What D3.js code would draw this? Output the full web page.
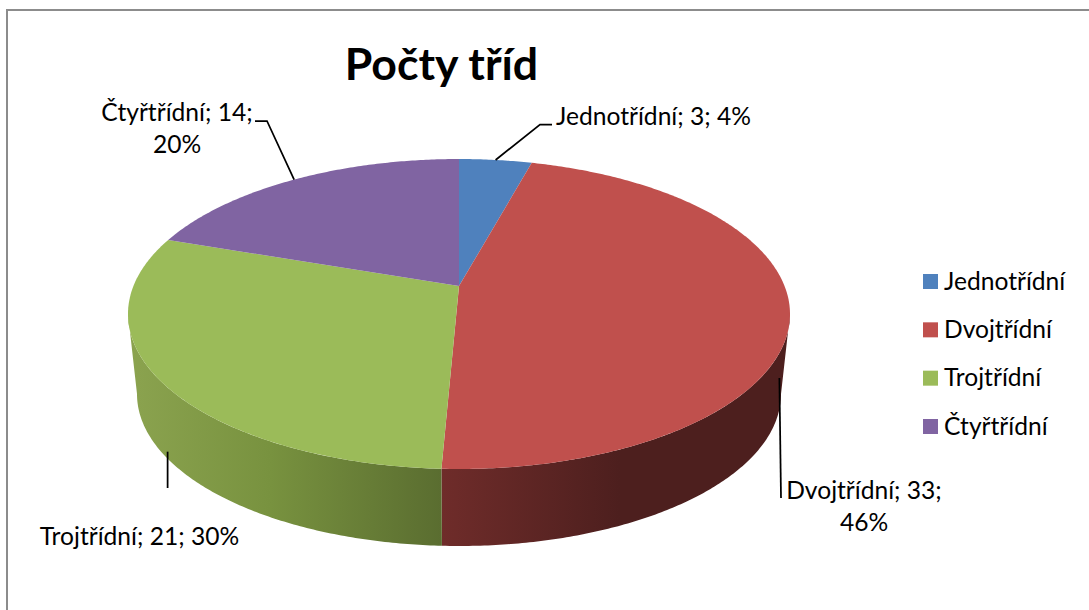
<!DOCTYPE html>
<html>
<head>
<meta charset="utf-8">
<script src="https://cdn.jsdelivr.net/npm/d3@7/dist/d3.min.js"></script>
<style>
html,body{margin:0;padding:0;background:#fff;}
svg{display:block;}
text{font-family:Lato,"Open Sans",sans-serif;fill:#000;}
</style>
</head>
<body>
<div id="chart"></div>
<script>
var categories = ['Jednotřídní','Dvojtřídní','Trojtřídní','Čtyřtřídní']
var values = [3,33,21,14]
var percents = ['4%','46%','30%','20%']
var colors = ['#4f81bd','#c0504d','#9bbb59','#8064a2']
var title = 'Počty tříd'

var width = 1089, height = 610

var svg = d3.select('#chart').append('svg')
	.attr('width',width)
	.attr('height',height)

// chart frame, right and bottom edges run off the picture
svg.append('path')
	.attr('d','M7,'+height+'V10H'+width)
	.attr('fill','none')
	.attr('stroke','#8c8c8c')
	.attr('stroke-width',2)

// the pie is a circle seen in perspective
var top_face = {cx:459,cy:314,rx:331,ry:155}
var bottom_face = {cx:459,cy:394,rx:322,ry:152}
var skew = -0.18

function project(face,angle) {
	var u = Math.sin(angle), v = -Math.cos(angle)
	var w = 1 + skew*v
	return [
		face.cx + face.rx*Math.sqrt(1-skew*skew)*u/w,
		face.cy + face.ry*(v+skew)/w
	]
}
function rim(face,a0,a1) {
	var n = Math.max(2,Math.ceil(Math.abs(a1-a0)/0.01))
	return d3.range(n+1).map(function(i){
		return project(face,a0+(a1-a0)*i/n)
	})
}

var pie = d3.pie().sort(null).value(function(d){return d})
var slices = pie(values)
var apex = [top_face.cx, top_face.cy + top_face.ry*skew]

var line = d3.line()

var defs = svg.append('defs')
var side_green = defs.append('linearGradient')
	.attr('id','side-green')
	.attr('gradientUnits','userSpaceOnUse')
	.attr('x1',130).attr('x2',442).attr('y1',0).attr('y2',0)
side_green.append('stop').attr('offset',0).attr('stop-color','#8ba34f')
side_green.append('stop').attr('offset',0.45).attr('stop-color','#78923f')
side_green.append('stop').attr('offset',1).attr('stop-color','#5a6d30')
var side_red = defs.append('linearGradient')
	.attr('id','side-red')
	.attr('gradientUnits','userSpaceOnUse')
	.attr('x1',441).attr('x2',620).attr('y1',0).attr('y2',0)
side_red.append('stop').attr('offset',0).attr('stop-color','#6f2c2a')
side_red.append('stop').attr('offset',1).attr('stop-color','#4d1f1e')

// wall of the pie: only the two front slices show, between the widest points
var split = slices[1].endAngle
var widest = Math.acos(skew)
var wall_right = widest, wall_left = 2*Math.PI - widest

svg.append('path')
	.attr('d',line(rim(top_face,wall_right,split).concat(rim(bottom_face,split,wall_right)))+'Z')
	.attr('fill','url(#side-red)')
svg.append('path')
	.attr('d',line(rim(top_face,split,wall_left).concat(rim(bottom_face,wall_left,split)))+'Z')
	.attr('fill','url(#side-green)')

// top face
svg.selectAll('path.slice')
	.data(slices)
	.enter()
	.append('path')
	.attr('class','slice')
	.attr('d',function(d){
		return line([apex].concat(rim(top_face,d.startAngle,d.endAngle)))+'Z'
	})
	.attr('fill',function(d,i){return colors[i]})

svg.append('text')
	.attr('x',441.5)
	.attr('y',80)
	.attr('text-anchor','middle')
	.style('font-size','44.6px')
	.style('font-weight',700)
	.text(title)

// data labels
function mid(d){return (d.startAngle+d.endAngle)/2}
var label_font = '24.6px'
var labels = [
	{lines:[categories[0]+'; '+values[0]+'; '+percents[0]], x:653.5, y:125},
	{lines:[categories[1]+'; '+values[1]+';',percents[1]], x:864, y:499},
	{lines:[categories[2]+'; '+values[2]+'; '+percents[2]], x:139.5, y:545},
	{lines:[categories[3]+'; '+values[3]+';',percents[3]], x:177, y:121}
]
labels.forEach(function(l){
	l.lines.forEach(function(s,j){
		svg.append('text')
			.attr('x',l.x)
			.attr('y',l.y + j*32)
			.attr('text-anchor','middle')
			.style('font-size',label_font)
			.text(s)
	})
})

// leader lines
var p0 = project(top_face,mid(slices[0]))
var p1 = project(bottom_face,mid(slices[1]))
var p2 = project(bottom_face,mid(slices[2]))
var p3 = project(top_face,mid(slices[3]))
var leaders = [
	[p0,[540,124.5],[552,124.5]],
	[[p1[0]-1.5,p1[1]-12],[781,498]],
	[[p2[0],p2[1]-7],[p2[0],488]],
	[p3,[267,121],[255,121]]
]
svg.selectAll('path.leader')
	.data(leaders)
	.enter()
	.append('path')
	.attr('class','leader')
	.attr('d',function(d){return line(d)})
	.attr('fill','none')
	.attr('stroke','#000')
	.attr('stroke-width',1.75)

// legend
var legend_y = d3.scalePoint().domain(categories).range([282,427])
var legend = svg.selectAll('g.legend')
	.data(categories)
	.enter()
	.append('g')
	.attr('class','legend')
	.attr('transform',function(d){return 'translate(923,'+legend_y(d)+')'})
legend.append('rect')
	.attr('y',-8)
	.attr('width',15)
	.attr('height',15)
	.attr('fill',function(d,i){return colors[i]})
legend.append('text')
	.attr('x',21)
	.attr('y',7.5)
	.style('font-size',label_font)
	.text(function(d){return d})
</script>
</body>
</html>
